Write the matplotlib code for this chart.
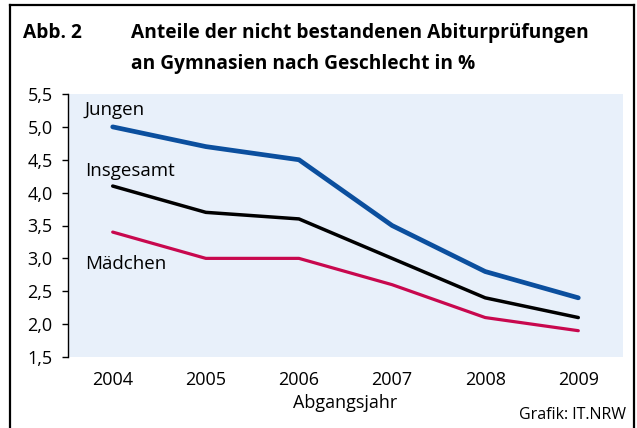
import matplotlib
matplotlib.use('Agg')
import matplotlib.pyplot as plt
from matplotlib.lines import Line2D

plt.rcParams['font.family'] = ['Open Sans', 'DejaVu Sans']

years = [2004, 2005, 2006, 2007, 2008, 2009]
jungen = [5.0, 4.7, 4.5, 3.5, 2.8, 2.4]
insgesamt = [4.1, 3.7, 3.6, 3.0, 2.4, 2.1]
maedchen = [3.4, 3.0, 3.0, 2.6, 2.1, 1.9]
y_ticks = [1.5, 2.0, 2.5, 3.0, 3.5, 4.0, 4.5, 5.0, 5.5]

fig = plt.figure(figsize=(6.37, 4.28), dpi=100)
ax = fig.add_axes([68 / 637, 1 - 357 / 428, 555 / 637, 263 / 428])
ax.set_facecolor('#e8f0fa')

ax.plot(years, jungen, color='#0b4f9e', lw=3.4, solid_capstyle='round')
ax.plot(years, insgesamt, color='black', lw=2.5, solid_capstyle='round')
ax.plot(years, maedchen, color='#c8084e', lw=2.3, solid_capstyle='round')

ax.set_xlim(2003.52, 2009.48)
ax.set_ylim(1.5, 5.5)
ax.set_yticks(y_ticks)
ax.set_yticklabels([f"{v:.1f}".replace('.', ',') for v in y_ticks])
ax.set_xticks(years)
ax.set_xticklabels([str(y) for y in years])

for s in ['top', 'right', 'bottom']:
    ax.spines[s].set_visible(False)
ax.spines['left'].set_linewidth(1.0)
ax.tick_params(axis='y', length=4, width=1.0, pad=7, labelsize=13)
ax.tick_params(axis='x', length=0, pad=10, labelsize=13)
ax.set_xlabel('Abgangsjahr', fontsize=13, labelpad=4)

# series labels
ax.text(2003.7, 5.26, 'Jungen', fontsize=13.5, va='center')
ax.text(2003.7, 4.33, 'Insgesamt', fontsize=13.5, va='center')
ax.text(2003.7, 2.91, 'Mädchen', fontsize=13.5, va='center')

# title
fig.text(23 / 637, 1 - 33 / 428, 'Abb. 2', fontsize=13.8, fontweight='bold', va='center')
fig.text(131 / 637, 1 - 33 / 428, 'Anteile der nicht bestandenen Abiturprüfungen',
         fontsize=13.8, fontweight='bold', va='center')
fig.text(131 / 637, 1 - 64 / 428, 'an Gymnasien nach Geschlecht in %',
         fontsize=13.8, fontweight='bold', va='center')
fig.text(626 / 637, 1 - 415 / 428, 'Grafik: IT.NRW', fontsize=11.5, ha='right', va='center')

# frame around the figure
fx0, fx1 = 10 / 637, 634 / 637
fy_top = 1 - 5 / 428
fig.add_artist(Line2D([fx0, fx0], [0, fy_top], color='black', lw=1.6, transform=fig.transFigure))
fig.add_artist(Line2D([fx1, fx1], [0, fy_top], color='black', lw=1.6, transform=fig.transFigure))
fig.add_artist(Line2D([fx0, fx1], [fy_top, fy_top], color='black', lw=1.6, transform=fig.transFigure))

fig.savefig('out.png', dpi=100)
